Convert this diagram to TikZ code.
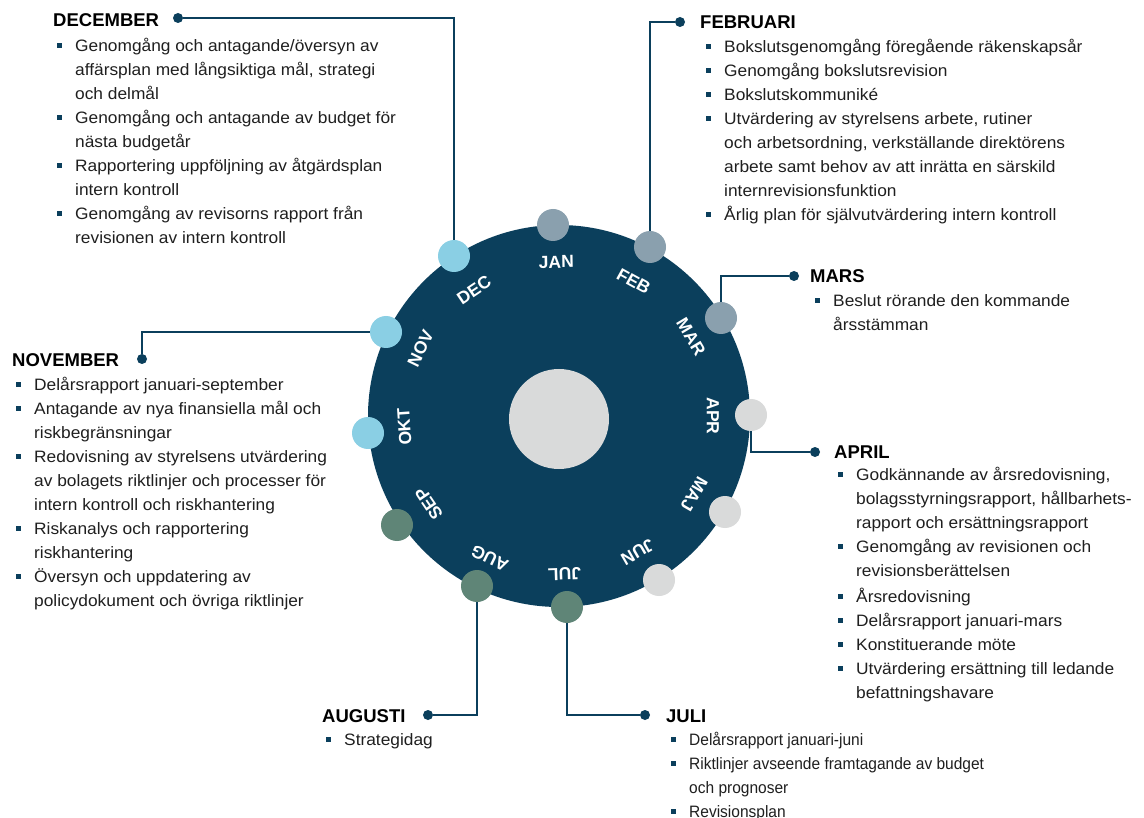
\documentclass[tikz,border=0pt]{standalone}
\usepackage{fontspec}
\setmainfont{Liberation Sans}
\newfontfamily\bodyfont[FakeStretch=1.05]{Liberation Sans}
\newfontfamily\condfont[FakeStretch=0.94]{Liberation Sans}
\definecolor{navy}{HTML}{0B3F5C}
\definecolor{dotA}{HTML}{8AA0AE}
\definecolor{dotB}{HTML}{D9DADA}
\definecolor{dotC}{HTML}{5F8577}
\definecolor{dotD}{HTML}{8ACFE4}
\definecolor{txt}{HTML}{1F1F1F}
\newcommand\bul{\makebox[18pt][l]{\rule{0pt}{17pt}\textcolor{navy}{\rule[3.5pt]{5pt}{5pt}}}}
\newcommand\cont{\hspace*{18pt}}
\begin{document}
\begin{tikzpicture}[x=1pt,y=-1pt,
  mdot/.style={circle, minimum size=32pt, inner sep=0pt, draw=none},
  edot/.style={circle, fill=navy, minimum size=10pt, inner sep=0pt},
  conn/.style={draw=navy, line width=2.2pt},
  head/.style={anchor=base west, inner sep=0pt, font=\fontsize{18.5}{22}\selectfont\bfseries, text=black},
  body/.style={anchor=north west, inner sep=0pt, align=left, font=\bodyfont\fontsize{16.5}{24}\selectfont, text=txt},
  cbody/.style={body, font=\condfont\fontsize{16.5}{24}\selectfont},
  mlab/.style={text=white, font=\fontsize{17.5}{20}\selectfont\bfseries, inner sep=0pt}
]
\useasboundingbox[fill=white] (0,0) rectangle (1144,818);
% wheel
\node[circle, fill=navy, minimum size=382pt, inner sep=0pt] (wheel) at (559,416) {};
\node[circle, fill=dotB, minimum size=100pt, inner sep=0pt] (hub) at (559,419) {};
\begin{scope}[shift={(559,416)}, y=1pt]
  \node[mlab, rotate=1]    (lJAN) at (91:154) {JAN};
  \node[mlab, rotate=-29]  (lFEB) at (61:154) {FEB};
  \node[mlab, rotate=-59]  (lMAR) at (31:154) {MAR};
  \node[mlab, rotate=-90]  (lAPR) at (0:154) {APR};
  \node[mlab, rotate=-120] (lMAJ) at (-30:156) {MAJ};
  \node[mlab, rotate=-150] (lJUN) at (-60:157) {JUN};
  \node[mlab, rotate=-178] (lJUL) at (-88:158) {JUL};
  \node[mlab, rotate=-206] (lAUG) at (-116:158) {AUG};
  \node[mlab, rotate=-236] (lSEP) at (-146:157) {SEP};
  \node[mlab, rotate=-266] (lOKT) at (-176:155) {OKT};
  \node[mlab, rotate=64]   (lNOV) at (154:154) {NOV};
  \node[mlab, rotate=34]   (lDEC) at (124:152) {DEC};
\end{scope}
% month dots
\node[mdot, fill=dotA] (dJAN) at (553,225) {};
\node[mdot, fill=dotA] (dFEB) at (650,247) {};
\node[mdot, fill=dotA] (dMAR) at (721,318) {};
\node[mdot, fill=dotB] (dAPR) at (751,415) {};
\node[mdot, fill=dotB] (dMAJ) at (725,512) {};
\node[mdot, fill=dotB] (dJUN) at (659,580) {};
\node[mdot, fill=dotC] (dJUL) at (567,607) {};
\node[mdot, fill=dotC] (dAUG) at (477,586) {};
\node[mdot, fill=dotC] (dSEP) at (397,525) {};
\node[mdot, fill=dotD] (dOKT) at (368,433) {};
\node[mdot, fill=dotD] (dNOV) at (386,332) {};
\node[mdot, fill=dotD] (dDEC) at (454,256) {};
% end dots
\node[edot] (eDEC) at (178,18) {};
\node[edot] (eFEB) at (680,22) {};
\node[edot] (eMAR) at (794,276) {};
\node[edot] (eAPR) at (815,452) {};
\node[edot] (eNOV) at (142,359) {};
\node[edot] (eAUG) at (428,715) {};
\node[edot] (eJUL) at (645,715) {};
% connectors
\draw[conn] (eDEC) -| (dDEC);
\draw[conn] (eFEB) -| (dFEB);
\draw[conn] (eMAR) -| (dMAR);
\draw[conn] (dAPR) |- (eAPR);
\draw[conn] (eNOV) |- (dNOV);
\draw[conn] (eAUG) -| (dAUG);
\draw[conn] (dJUL) |- (eJUL);
% DECEMBER
\node[head] (hDEC) at (53,27) {DECEMBER};
\node[body] (bDEC) at (57,34) {\bul Genomgång och antagande/översyn av\\
\cont affärsplan med långsiktiga mål, strategi\\
\cont och delmål\\
\bul Genomgång och antagande av budget för\\
\cont nästa budgetår\\
\bul Rapportering uppföljning av åtgärdsplan\\
\cont intern kontroll\\
\bul Genomgång av revisorns rapport från\\
\cont revisionen av intern kontroll};
% FEBRUARI
\node[head] (hFEB) at (700,29) {FEBRUARI};
\node[body] (bFEB) at (706,35) {\bul Bokslutsgenomgång föregående räkenskapsår\\
\bul Genomgång bokslutsrevision\\
\bul Bokslutskommuniké\\
\bul Utvärdering av styrelsens arbete, rutiner\\
\cont och arbetsordning, verkställande direktörens\\
\cont arbete samt behov av att inrätta en särskild\\
\cont internrevisionsfunktion\\
\bul Årlig plan för självutvärdering intern kontroll};
% MARS
\node[head] (hMAR) at (810,283) {MARS};
\node[body] (bMAR) at (815,289) {\bul Beslut rörande den kommande\\
\cont årsstämman};
% APRIL
\node[head] (hAPR) at (834,458) {APRIL};
\node[body] (bAPR) at (838,463) {\bul Godkännande av årsredovisning,\\
\cont bolagsstyrningsrapport, hållbarhets-\\
\cont rapport och ersättningsrapport\\
\bul Genomgång av revisionen och\\
\cont revisionsberättelsen\\[2pt]
\bul Årsredovisning\\
\bul Delårsrapport januari-mars\\
\bul Konstituerande möte\\
\bul Utvärdering ersättning till ledande\\
\cont befattningshavare};
% NOVEMBER
\node[head] (hNOV) at (12,367) {NOVEMBER};
\node[body] (bNOV) at (16,373) {\bul Delårsrapport januari-september\\
\bul Antagande av nya finansiella mål och\\
\cont riskbegränsningar\\
\bul Redovisning av styrelsens utvärdering\\
\cont av bolagets riktlinjer och processer för\\
\cont intern kontroll och riskhantering\\
\bul Riskanalys och rapportering\\
\cont riskhantering\\
\bul Översyn och uppdatering av\\
\cont policydokument och övriga riktlinjer};
% AUGUSTI
\node[head] (hAUG) at (322,722) {AUGUSTI};
\node[body] (bAUG) at (326,728) {\bul Strategidag};
% JULI
\node[head] (hJUL) at (666,722) {JULI};
\node[cbody] (bJUL) at (671,728) {\bul Delårsrapport januari-juni\\
\bul Riktlinjer avseende framtagande av budget\\
\cont och prognoser\\
\bul Revisionsplan};
\end{tikzpicture}
\end{document}
